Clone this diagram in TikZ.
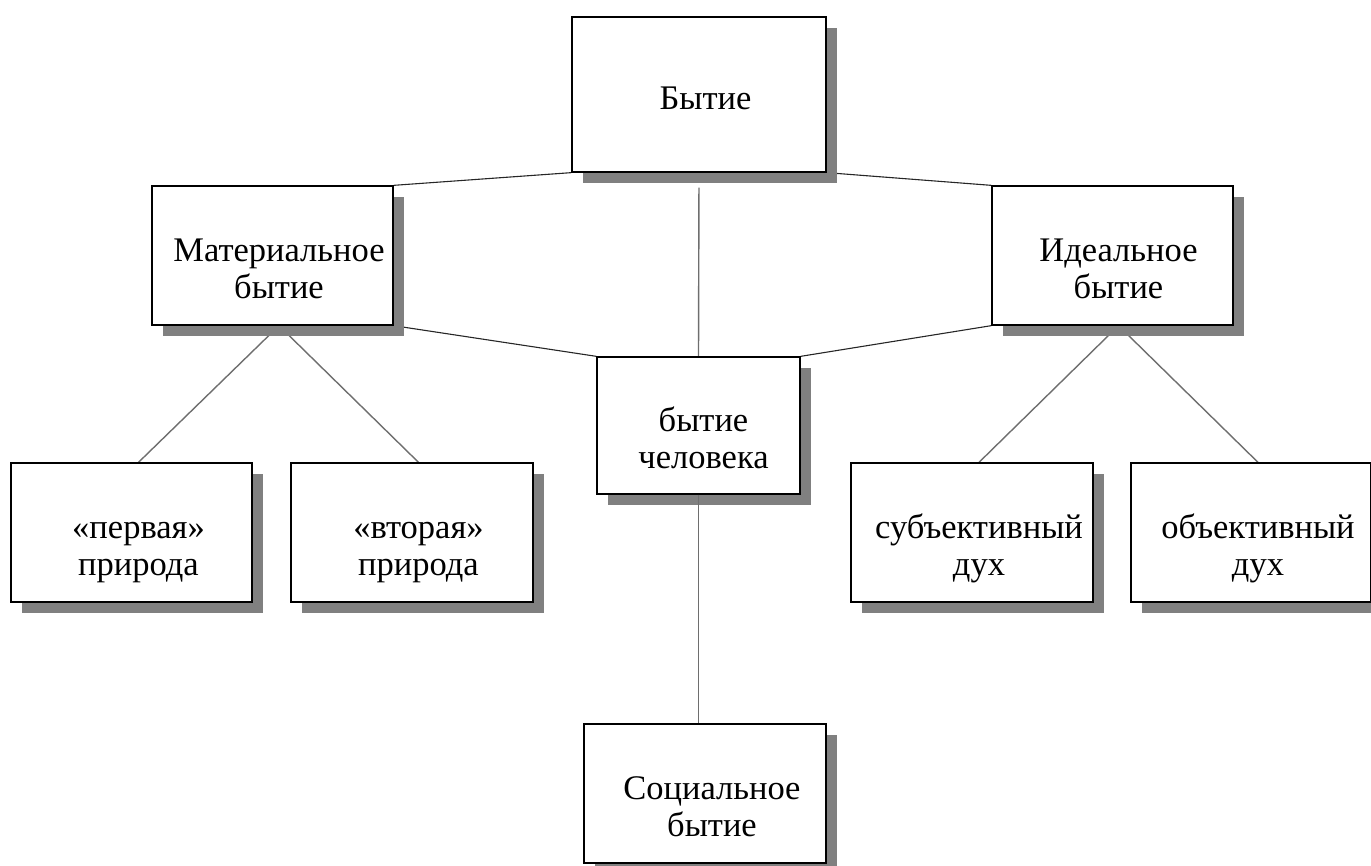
\documentclass[tikz,border=0pt]{standalone}
\usepackage{fontspec}
\setmainfont{LiberationSerif}[Extension=.ttf, UprightFont=*-Regular, BoldFont=*-Bold, ItalicFont=*-Italic, BoldItalicFont=*-BoldItalic]
\usetikzlibrary{shadows,backgrounds,calc}
\definecolor{shadowgray}{HTML}{808080}
\definecolor{linegray}{HTML}{6E6E6E}
\newcommand{\twol}[2]{\strut #1\\\strut #2}
\begin{document}
\begin{tikzpicture}[x=1pt,y=-1pt,
  box/.style={draw=black, line width=1.3pt, fill=white, rectangle, inner sep=0pt,
    minimum width=241pt, minimum height=139pt,
    drop shadow={shadow xshift=11pt, shadow yshift=-11pt, fill=shadowgray, opacity=1}},
  lbl/.style={align=center, inner sep=0pt, font=\rmfamily\fontsize{34.5}{37}\selectfont, text=black},
  conn/.style={draw=black!85, line width=1.1pt},
  branch/.style={draw=linegray, line width=1.4pt}]
\useasboundingbox (0,0) rectangle (1371,866);
% boxes
\node[box, minimum width=254pt, minimum height=155pt] (b) at (699,94.5) {};
\node[box] (m) at (272.5,255.5) {};
\node[box] (i) at (1112.5,255.5) {};
\node[box, minimum width=203pt, minimum height=137pt] (h) at (698.5,425.5) {};
\node[box] (p1) at (131.5,532.5) {};
\node[box, minimum width=242pt] (p2) at (412,532.5) {};
\node[box, minimum width=242pt] (sd) at (972,532.5) {};
\node[box, minimum width=240pt] (od) at (1251,532.5) {};
\node[box, minimum width=242pt] (s) at (705,793.5) {};
% labels
\node[lbl] (tb) at ($(b)+(6.5,8)$) {\strut Бытие};
\node[lbl] (tm) at ($(m)+(6.5,17.5)$) {\twol{Материальное}{бытие}};
\node[lbl] (ti) at ($(i)+(6,17.5)$) {\twol{Идеальное}{бытие}};
\node[lbl] (th) at ($(h)+(5,17.5)$) {\twol{бытие}{человека}};
\node[lbl] (tp1) at ($(p1)+(7,17.5)$) {\twol{«первая»}{природа}};
\node[lbl] (tp2) at ($(p2)+(6.5,17.5)$) {\twol{«вторая»}{природа}};
\node[lbl] (tsd) at ($(sd)+(7,17.5)$) {\twol{субъективный}{дух}};
\node[lbl] (tod) at ($(od)+(7,17.5)$) {\twol{объективный}{дух}};
\node[lbl] (ts) at ($(s)+(7,17.5)$) {\twol{Социальное}{бытие}};
% connectors
\begin{scope}[on background layer]
\draw[conn] (b.south west) -- (m.north east);
\draw[conn] (b.south east) -- (i.north west);
\draw[conn] (m.south east) -- (h.north west);
\draw[conn] (i.south west) -- (h.north east);
\draw[branch, shorten <=15pt] (b.south) -- (h.north);
\draw[branch] (tm |- m.south) -- (tp1 |- p1.north);
\draw[branch] (tm |- m.south) -- (tp2 |- p2.north);
\draw[branch] (ti |- i.south) -- (tsd |- sd.north);
\draw[branch] (ti |- i.south) -- (tod |- od.north);
\end{scope}
\draw[branch] (h.south) -- (h.south |- s.north);
\end{tikzpicture}
\end{document}
